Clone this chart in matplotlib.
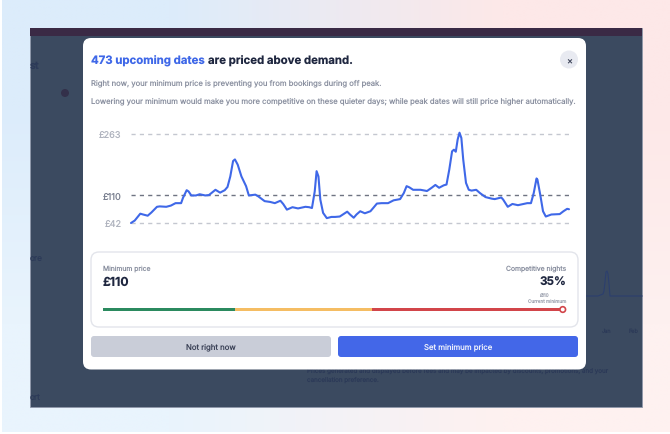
import matplotlib
matplotlib.use("Agg")
import matplotlib.pyplot as plt
import numpy as np
from matplotlib.axes import Axes
from matplotlib.colors import to_rgb
from matplotlib.patches import Circle, FancyBboxPatch, Rectangle

# day index in the upcoming window, price in pounds
days = [
    0, 4, 10, 13, 18, 22, 28, 31, 38, 43, 48, 54, 56, 60, 62, 65, 70, 74, 80, 84,
    91, 96, 101, 104, 107, 110, 112, 115, 119, 124, 127, 134, 137, 144, 150, 155,
    161, 164, 168, 174, 180, 188, 192, 195, 198, 200, 202, 204, 207, 211, 216, 220,
    225, 229, 233, 236, 240, 243, 247, 252, 258, 261, 265, 270, 277, 283, 290, 294,
    297, 300, 304, 312, 319, 324, 328, 332, 337, 340, 343, 346, 348, 350, 352, 354,
    356, 358, 361, 364, 367, 372, 376, 382, 389, 392, 399, 401, 406, 411, 417, 423,
    427, 431, 434, 437, 438, 441, 444, 447, 453, 462, 466, 470, 472,
]
prices = [
    42, 48, 65, 63, 60, 68, 82, 83, 82, 85, 91, 91, 104, 123, 120, 110, 110, 113, 110, 111,
    124, 117, 123, 131, 157, 195, 199, 186, 157, 133, 110, 112, 108, 96, 94, 91,
    97, 89, 75, 81, 78, 82, 81, 79, 120, 170, 157, 100, 67, 54, 57, 57,
    58, 64, 70, 63, 55, 63, 71, 66, 71, 79, 90, 91, 91, 98, 101, 116,
    133, 130, 124, 124, 121, 129, 136, 129, 135, 137, 174, 219, 223, 218, 248, 265,
    252, 199, 141, 124, 122, 124, 116, 106, 102, 101, 105, 100, 82, 89, 86, 89,
    91, 91, 116, 152, 149, 112, 71, 58, 63, 64, 71, 77, 76,
]
priceTicks = [263, 110, 42]
priceTickLabels = ["£263", "£110", "£42"]

# competitive bar bands, as share of the track
bandEdges = [0.0, 0.286, 0.58, 1.0]
bandColors = ["#2b8a5f", "#f5bd63", "#d2454a"]
currentShare = 0.993

# the faint chart behind the modal
bgMonths = ["Jan", "Feb"]
bgDays = [0, 12, 17, 18, 19, 20, 21, 22, 23, 24, 26, 56]
bgValues = [0, 0, 2, 5, 14, 24, 25, 22, 12, 0, 0, 0]

BLUE = "#3f68e8"
INK = "#1f2740"
GRAY = "#8a90a0"
W, H = 670, 435

plt.rcParams["font.family"] = ["Inter", "DejaVu Sans"]
plt.rcParams["text.hinting"] = "no_hinting"
plt.rcParams["text.hinting_factor"] = 1


def roundBox(ax: Axes, x0, y0, x1, y1, r, face, edge="none", z=2, lw=1.0) -> None:
    ax.add_patch(
        FancyBboxPatch(
            (x0, y0),
            x1 - x0,
            y1 - y0,
            boxstyle=f"round,pad=0,rounding_size={r}",
            facecolor=face,
            edgecolor=edge,
            linewidth=lw,
            zorder=z,
        )
    )


def drawBackground(ui: Axes) -> None:
    corners = np.array(
        [
            [to_rgb("#dcecfb"), to_rgb("#fde8e8")],
            [to_rgb("#e9f4fd"), to_rgb("#fef1f0")],
        ]
    )
    ui.imshow(
        corners,
        extent=(2, W, 433, 1),
        interpolation="bilinear",
        aspect="auto",
        zorder=0,
    )
    ui.add_patch(Rectangle((30, 29), 612, 379, facecolor="#3b4a60", edgecolor="#8f98aa", linewidth=0.6, zorder=1))
    ui.add_patch(Rectangle((30, 29), 612, 8, facecolor="#3a2a45", zorder=1.1))

    dim = "#2c3a58"
    ui.text(30, 66, "st", color=dim, fontsize=7.5, fontweight="bold", va="center", zorder=1.2)
    ui.text(30, 260, "ore", color=dim, fontsize=6, va="center", zorder=1.2)
    ui.text(30, 399, "ort", color=dim, fontsize=6, va="center", zorder=1.2)
    ui.add_patch(Circle((65, 94), 4, facecolor="#33304a", zorder=1.2))
    ui.text(
        307, 371,
        "Prices generated and displayed before fees and may be impacted by discounts, promotions, and your",
        color=dim, fontsize=4.5, va="center", zorder=1.2,
    )
    ui.text(307, 379.5, "cancellation preference.", color=dim, fontsize=4.5, va="center", zorder=1.2)

    bgX = [586 + d for d in bgDays]
    bgY = [297 - v for v in bgValues]
    ui.plot(bgX, bgY, color="#2c3f6e", linewidth=0.8, zorder=1.2)
    for name, x in zip(bgMonths, [607, 634]):
        ui.text(x, 331, name, color=dim, fontsize=4, ha="center", va="center", zorder=1.2)


def drawModal(ui: Axes) -> None:
    roundBox(ui, 83, 39, 586, 370.5, 8, "white")

    ui.text(91, 60, "473 upcoming dates", color=BLUE, fontsize=8.2, fontweight="bold", va="center", zorder=3)
    ui.text(208.5, 60, "are priced above demand.", color=INK, fontsize=8.2, fontweight="bold", va="center", zorder=3)
    ui.add_patch(Circle((569, 60.5), 9, facecolor="#e8eaf1", zorder=3))
    ui.text(569, 60.5, "×", color="#3a4156", fontsize=6.5, ha="center", va="center", zorder=4)

    ui.text(91, 83, "Right now, your minimum price is preventing you from bookings during off peak.",
            color=GRAY, fontsize=5.5, va="center", zorder=3)
    ui.text(91, 101, "Lowering your minimum would make you more competitive on these quieter days; while peak dates will still price higher automatically.",
            color=GRAY, fontsize=5.5, va="center", zorder=3)

    roundBox(ui, 91, 253, 578, 328, 8, "white", edge="#e3e5eb")
    ui.text(103, 269, "Minimum price", color=GRAY, fontsize=4.9, va="center", zorder=3)
    ui.text(103, 283, "£110", color=INK, fontsize=8.8, fontweight="bold", va="center", zorder=3)
    ui.text(566, 269, "Competitive nights", color=GRAY, fontsize=4.9, ha="right", va="center", zorder=3)
    ui.text(566, 283, "35%", color=INK, fontsize=8.4, fontweight="bold", ha="right", va="center", zorder=3)
    ui.text(545, 295.5, "£110", color="#a0a5b2", fontsize=3.4, ha="center", va="center", zorder=3)
    ui.text(566, 301.5, "Current minimum", color="#a0a5b2", fontsize=3.4, ha="right", va="center", zorder=3)

    trackLeft, trackRight = 103, 566
    span = trackRight - trackLeft
    for start, end, color in zip(bandEdges[:-1], bandEdges[1:], bandColors):
        ui.add_patch(Rectangle((trackLeft + start * span, 309.2), (end - start) * span, 2.6, facecolor=color, zorder=3))
    ui.add_patch(Circle((trackLeft + currentShare * span, 310.5), 2.8, facecolor="white", edgecolor=bandColors[-1], linewidth=1.2, zorder=4))

    roundBox(ui, 91, 337, 331, 358, 3, "#c9cdd8")
    ui.text(211, 347.5, "Not right now", color="#3a4156", fontsize=5.6, ha="center", va="center", zorder=3)
    roundBox(ui, 338, 337, 578, 358, 3, "#4367e8")
    ui.text(458, 347.5, "Set minimum price", color="#f0f3fd", fontsize=5.6, ha="center", va="center", zorder=3)


def drawChart(fig) -> None:
    left, right, top, bottom = 131, 569, 134.5, 224
    ax: Axes = fig.add_axes([left / W, 1 - bottom / H, (right - left) / W, (bottom - top) / H])
    ax.set_zorder(2)
    ax.patch.set_alpha(0)
    ax.set_xlim(0, 472)
    ax.set_ylim(42, 263)
    for spine in ax.spines.values():
        spine.set_visible(False)
    ax.set_xticks([])
    ax.set_yticks(priceTicks, priceTickLabels)
    ax.tick_params(axis="y", length=0, pad=7, labelsize=6.6, labelcolor="#b0b4bf")
    ax.get_yticklabels()[1].set_color("#7a8090")

    for price in priceTicks:
        isMin = price == 110
        ax.axhline(
            price,
            color="#6f7482" if isMin else "#c4c7d0",
            linewidth=1.0,
            dashes=(3, 3),
            clip_on=False,
            zorder=1,
        )
    ax.plot(days, prices, color=BLUE, linewidth=1.5, solid_joinstyle="round", solid_capstyle="round", clip_on=False, zorder=2)


def main() -> None:
    fig = plt.figure(figsize=(W / 100, H / 100), dpi=100, facecolor="white")
    ui: Axes = fig.add_axes([0, 0, 1, 1])
    ui.axis("off")
    drawBackground(ui)
    drawModal(ui)
    ui.set_xlim(0, W)
    ui.set_ylim(H, 0)
    drawChart(fig)
    fig.savefig("out.png", dpi=100)


if __name__ == "__main__":
    main()
